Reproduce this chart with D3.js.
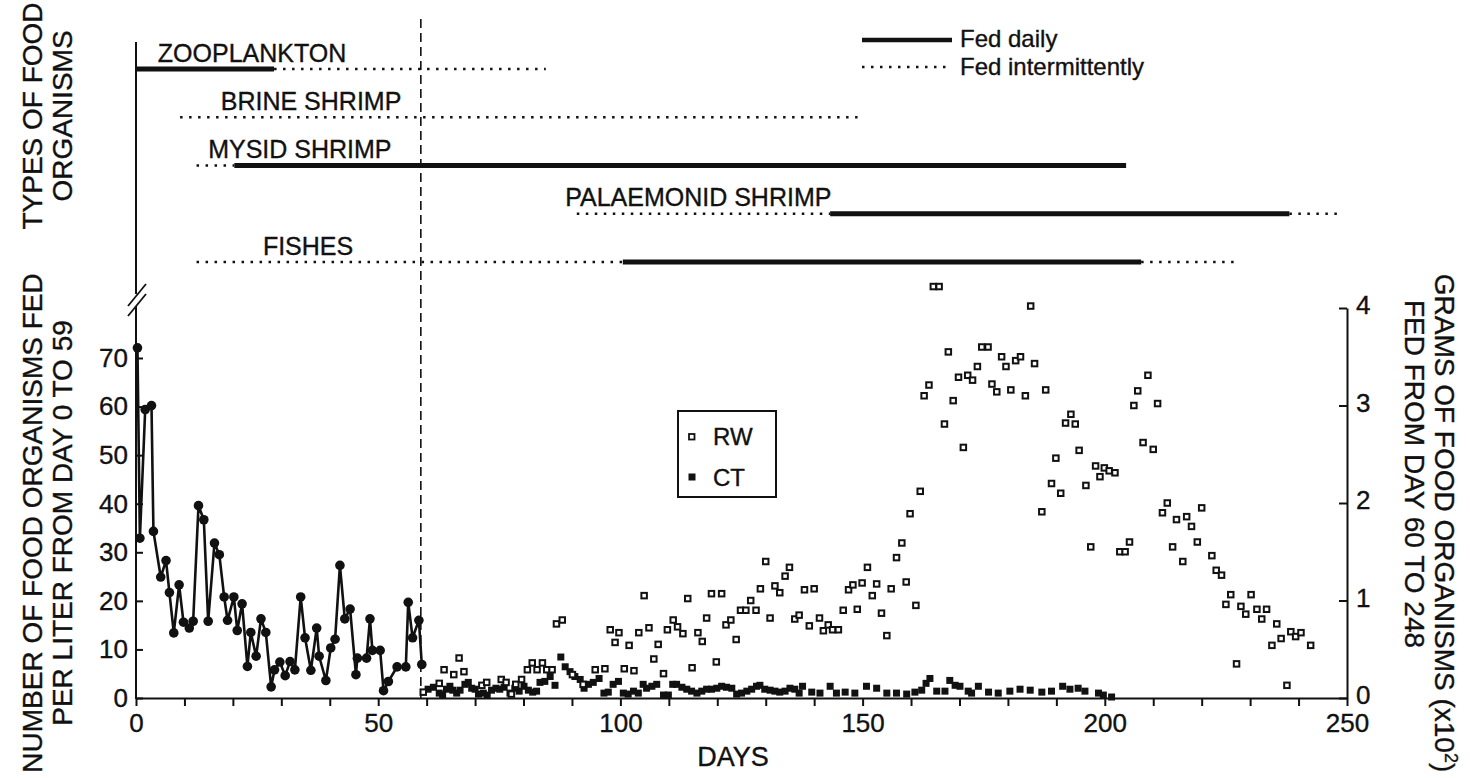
<!DOCTYPE html>
<html>
<head>
<meta charset="utf-8">
<script src="https://cdn.jsdelivr.net/npm/d3@7"></script>
<style>
body { margin: 0; background: #fff; }
svg text { fill: #111; stroke: #111; stroke-width: 0.35px; }
</style>
</head>
<body>
<script>
// days 0-59: organisms fed per liter (left axis)
var earlyDays = [0.3, 0.8, 1.9, 3.2, 3.6, 5.1, 6.2, 6.9, 7.8, 8.9, 9.8, 11.0, 11.8, 12.9, 14.0, 14.9, 16.2, 17.2, 18.2, 18.9,
	20.2, 20.9, 21.9, 23.0, 23.7, 24.8, 25.8, 26.8, 27.9, 28.6, 29.7, 30.8, 31.8, 32.8, 34.0, 34.9, 36.1, 37.3, 37.8, 39.2,
	40.2, 41.1, 42.1, 43.1, 44.2, 45.4, 45.7, 47.6, 48.3, 48.8, 50.4, 51.1, 52.1, 53.9, 55.7, 56.2, 57.1, 58.4, 59.0]
var earlyFed = [72.1, 32.9, 59.4, 60.2, 34.3, 24.9, 28.3, 21.7, 13.4, 23.3, 15.6, 14.4, 15.8, 39.6, 36.7, 15.8, 31.9, 29.5, 20.8, 16.0,
	20.8, 13.9, 19.4, 6.5, 13.5, 8.6, 16.3, 13.5, 2.3, 5.8, 7.4, 4.6, 7.5, 5.8, 20.8, 12.4, 5.7, 14.4, 8.6, 3.6,
	10.3, 12.1, 27.3, 16.3, 18.3, 4.8, 8.2, 8.2, 16.3, 9.8, 9.8, 1.5, 3.4, 6.4, 6.4, 19.7, 12.4, 16.0, 6.9]

// days 60-248: grams x10^2 (right axis)
var rwDays = [59.3, 62.6, 63.6, 65.6, 66.7, 67.7, 71.4, 72.4, 75.4, 76.4, 77.5, 78.4, 79.6, 80.8, 81.8, 82.8, 83.9, 84.8, 85.9, 86.8,
	88.0, 90.1, 92.3, 94.8, 96.8, 97.9, 98.9, 99.7, 100.8, 101.8, 102.8, 103.8, 104.9, 105.9, 106.9, 107.8, 108.9, 109.7, 110.9, 111.8,
	112.9, 113.9, 114.8, 116.0, 116.9, 117.8, 118.8, 119.8, 120.9, 121.8, 122.8, 123.9, 124.8, 125.9, 126.9, 128.0, 128.9, 130.0, 130.9, 131.9,
	132.9, 134.0, 134.9, 136.0, 136.9, 138.0, 139.0, 140.0, 141.1, 141.9, 142.9, 143.8, 145.0, 146.0, 147.1, 148.0, 148.9, 149.9, 151.0, 152.0,
	152.9, 153.9, 155.0, 155.9, 157.0, 158.1, 159.0, 159.8, 161.0, 161.9, 162.7, 163.7, 164.6, 165.8, 166.9, 167.7, 168.7, 169.8, 170.8, 171.7,
	172.7, 173.7, 174.6, 175.9, 176.7, 177.7, 178.7, 179.6, 180.6, 181.6, 182.6, 183.6, 184.7, 185.5, 187.0, 187.8, 189.0, 189.9, 190.9, 191.9,
	193.0, 193.9, 194.7, 196.1, 197.1, 198.1, 199.0, 199.9, 200.9, 202.1, 203.1, 204.2, 205.1, 206.0, 206.8, 207.9, 208.9, 210.0, 210.9, 211.9,
	212.9, 214.0, 214.8, 216.1, 216.9, 217.9, 219.1, 220.0, 222.1, 223.0, 224.1, 225.0, 226.0, 227.2, 228.1, 229.1, 230.2, 231.4, 232.4, 233.4,
	234.5, 235.5, 236.4, 237.6, 238.4, 239.4, 240.5, 242.5]
var rwGrams = [0.06, 0.15, 0.29, 0.24, 0.41, 0.27, 0.13, 0.16, 0.19, 0.16, 0.04, 0.14, 0.19, 0.29, 0.36, 0.29, 0.36, 0.29, 0.29, 0.76,
	0.80, 0.24, 0.14, 0.29, 0.30, 0.70, 0.57, 0.67, 0.30, 0.54, 0.28, 0.67, 1.05, 0.72, 0.40, 0.55, 0.25, 0.70, 0.80, 0.73,
	0.66, 1.02, 0.31, 0.67, 0.58, 0.82, 1.07, 0.37, 1.07, 0.75, 0.80, 0.60, 0.90, 0.90, 1.00, 0.90, 1.12, 1.40, 0.82, 1.15,
	1.08, 1.25, 1.34, 0.81, 0.85, 1.11, 0.74, 1.12, 0.82, 0.69, 0.75, 0.70, 0.70, 0.90, 1.11, 1.16, 0.91, 1.18, 1.34, 1.05,
	1.17, 0.87, 0.64, 1.12, 1.44, 1.59, 1.19, 1.89, 0.95, 2.12, 3.10, 3.21, 4.22, 4.22, 2.81, 3.55, 3.05, 3.29, 2.57, 3.31,
	3.26, 3.40, 3.60, 3.60, 3.22, 3.14, 3.50, 3.40, 3.16, 3.46, 3.50, 3.10, 4.02, 3.43, 1.91, 3.16, 2.20, 2.46, 2.10, 2.82,
	2.91, 2.81, 2.54, 2.18, 1.55, 2.38, 2.27, 2.36, 2.33, 2.31, 1.50, 1.50, 1.60, 3.00, 3.15, 2.62, 3.31, 2.55, 3.02, 1.90,
	2.00, 1.55, 1.83, 1.40, 1.86, 1.76, 1.60, 1.95, 1.46, 1.31, 1.26, 0.96, 1.06, 0.35, 0.94, 0.86, 1.06, 0.91, 0.81, 0.91,
	0.54, 0.76, 0.61, 0.13, 0.68, 0.63, 0.67, 0.54]

var ctDays = [60.3, 61.4, 62.6, 63.3, 64.1, 64.8, 65.4, 66.2, 66.9, 67.9, 68.6, 69.3, 70.0, 70.7, 71.7, 72.5, 73.4, 74.3, 75.1, 76.0,
	77.2, 78.2, 79.1, 80.1, 81.0, 81.9, 82.7, 83.4, 84.4, 85.5, 86.5, 87.7, 88.6, 89.6, 90.6, 91.7, 92.5, 93.4, 94.4, 95.6,
	96.6, 97.5, 98.5, 99.6, 100.6, 101.6, 102.7, 103.7, 104.7, 105.4, 106.5, 107.5, 108.9, 109.9, 110.8, 111.6, 112.7, 113.7, 114.7, 115.8,
	116.8, 117.8, 118.8, 119.9, 120.9, 121.9, 123.0, 124.0, 125.0, 126.1, 127.1, 128.1, 128.8, 129.8, 130.9, 131.9, 132.9, 134.0, 135.0, 136.0,
	136.9, 137.6, 139.5, 141.2, 143.3, 144.6, 146.4, 148.4, 150.8, 152.9, 155.0, 157.0, 159.1, 160.8, 162.2, 163.1, 163.9, 165.3, 167.0, 168.0,
	169.1, 170.1, 171.8, 172.5, 173.9, 176.0, 178.0, 180.4, 182.5, 184.6, 187.0, 189.0, 191.3, 192.8, 194.5, 195.9, 198.7, 199.7, 201.4]
var ctGrams = [0.08, 0.10, 0.04, 0.02, 0.08, 0.11, 0.07, 0.04, 0.07, 0.13, 0.15, 0.09, 0.08, 0.03, 0.04, 0.02, 0.07, 0.09, 0.08, 0.10,
	0.04, 0.09, 0.06, 0.11, 0.07, 0.05, 0.06, 0.15, 0.16, 0.21, 0.12, 0.41, 0.31, 0.26, 0.21, 0.18, 0.09, 0.13, 0.15, 0.19,
	0.04, 0.05, 0.13, 0.16, 0.04, 0.03, 0.06, 0.04, 0.13, 0.09, 0.11, 0.13, 0.02, 0.02, 0.13, 0.13, 0.10, 0.08, 0.06, 0.04,
	0.06, 0.08, 0.08, 0.09, 0.11, 0.10, 0.09, 0.03, 0.04, 0.06, 0.08, 0.11, 0.12, 0.08, 0.07, 0.06, 0.05, 0.06, 0.09, 0.08,
	0.04, 0.11, 0.05, 0.04, 0.11, 0.04, 0.05, 0.04, 0.11, 0.09, 0.04, 0.04, 0.03, 0.05, 0.07, 0.14, 0.19, 0.06, 0.06, 0.17,
	0.12, 0.11, 0.06, 0.04, 0.11, 0.05, 0.04, 0.06, 0.08, 0.07, 0.05, 0.06, 0.11, 0.08, 0.09, 0.06, 0.04, 0.02, 0.00]

// feeding schedule: [organism, mode, from day, to day]
var foods = ['ZOOPLANKTON', 'BRINE SHRIMP', 'MYSID SHRIMP', 'PALAEMONID SHRIMP', 'FISHES']
var foodLabelDays = [4.5, 17.5, 14.9, 88.6, 26.2]
var feeding = [
	['ZOOPLANKTON', 'daily', 0, 28.5], ['ZOOPLANKTON', 'intermittent', 28.5, 84.6],
	['BRINE SHRIMP', 'intermittent', 9.1, 149.6],
	['MYSID SHRIMP', 'intermittent', 12.5, 20.3], ['MYSID SHRIMP', 'daily', 20.3, 204.4],
	['PALAEMONID SHRIMP', 'intermittent', 91, 143.3], ['PALAEMONID SHRIMP', 'daily', 143.3, 238.1], ['PALAEMONID SHRIMP', 'intermittent', 238.1, 248],
	['FISHES', 'intermittent', 12.5, 100.5], ['FISHES', 'daily', 100.5, 207.5], ['FISHES', 'intermittent', 207.5, 227.3]
]
var splitDay = 58.8

var dayTicks = d3.range(0, 251, 10)
var dayLabels = [0, 50, 100, 150, 200, 250]
var fedTicks = [0, 10, 20, 30, 40, 50, 60, 70]
var gramTicks = [0, 1, 2, 3, 4]

var sans = "'Liberation Sans', Arial, sans-serif"
var ink = '#111'
var dotted = '2.5,6.5'

var svg = d3.select('body').append('svg')
	.attr('width', 1470)
	.attr('height', 778)

var x = d3.scaleLinear().domain([0, 250]).range([136, 1347])
var yFed = d3.scaleLinear().domain([0, 70]).range([698, 358])
var yGrams = d3.scaleLinear().domain([0, 4]).range([698, 308])
var yFood = d3.scalePoint().domain(foods).range([69, 262])

function translation(a, b){
	return 'translate(' + a + ',' + b + ')'
}

function styleAxis(g){
	g.attr('font-family', sans).attr('font-size', 26)
	g.selectAll('line, path').attr('stroke', ink).attr('stroke-width', 2)
	g.selectAll('text').attr('fill', ink)
}

// x axis
svg.append('g')
	.attr('transform', translation(0, 698))
	.call(d3.axisBottom(x).tickValues(dayTicks)
		.tickFormat(function(d){ return dayLabels.indexOf(d) >= 0 ? d : '' })
		.tickSizeInner(8).tickSizeOuter(0).tickPadding(8))
	.call(styleAxis)

// left axis, line drawn separately because of the break
var leftAxis = svg.append('g')
	.attr('transform', translation(136, 0))
	.call(d3.axisLeft(yFed).tickValues(fedTicks).tickSizeInner(-7).tickSizeOuter(0).tickPadding(8))
	.call(styleAxis)
leftAxis.select('.domain').remove()

svg.append('line').attr('x1', 136).attr('x2', 136).attr('y1', 699).attr('y2', 306)
	.attr('stroke', ink).attr('stroke-width', 2)
svg.append('line').attr('x1', 136).attr('x2', 136).attr('y1', 294).attr('y2', 42)
	.attr('stroke', ink).attr('stroke-width', 2)
svg.append('line').attr('x1', 128).attr('y1', 306).attr('x2', 146).attr('y2', 284)
	.attr('stroke', ink).attr('stroke-width', 1.8)
svg.append('line').attr('x1', 128).attr('y1', 316).attr('x2', 146).attr('y2', 294)
	.attr('stroke', ink).attr('stroke-width', 1.8)

// right axis
var rightAxis = svg.append('g')
	.attr('transform', translation(1347, 0))
	.call(d3.axisRight(yGrams).tickValues(gramTicks).tickFormat(d3.format('d'))
		.tickSizeInner(-8).tickSizeOuter(0).tickPadding(9))
	.call(styleAxis)
rightAxis.selectAll('text').attr('dy', '0.22em')

// dashed split between the two periods
svg.append('line')
	.attr('x1', x(splitDay)).attr('x2', x(splitDay))
	.attr('y1', 19).attr('y2', 698)
	.attr('stroke', ink).attr('stroke-width', 1.6)
	.attr('stroke-dasharray', '9,5')

// feeding schedule bars
svg.selectAll('.feed').data(feeding).enter().append('line')
	.attr('class', 'feed')
	.attr('x1', function(d){ return x(d[2]) })
	.attr('x2', function(d){ return x(d[3]) })
	.attr('y1', function(d){ return yFood(d[0]) })
	.attr('y2', function(d){ return yFood(d[0]) })
	.attr('stroke', ink)
	.attr('stroke-width', function(d){ return d[1] == 'daily' ? 5 : 2.6 })
	.attr('stroke-dasharray', function(d){ return d[1] == 'daily' ? null : dotted })

svg.selectAll('.foodlabel').data(foods).enter().append('text')
	.attr('class', 'foodlabel')
	.attr('x', function(d, i){ return x(foodLabelDays[i]) })
	.attr('y', function(d){ return yFood(d) - 7.5 })
	.attr('font-family', sans)
	.attr('font-size', 25)
	.text(function(d){ return d })

// schedule legend
svg.append('line').attr('x1', 862).attr('x2', 952).attr('y1', 40).attr('y2', 40)
	.attr('stroke', ink).attr('stroke-width', 4.5)
svg.append('line').attr('x1', 862).attr('x2', 952).attr('y1', 67).attr('y2', 67)
	.attr('stroke', ink).attr('stroke-width', 2.6).attr('stroke-dasharray', dotted)
svg.append('text').attr('x', 960).attr('y', 47).attr('font-family', sans).attr('font-size', 24).text('Fed daily')
svg.append('text').attr('x', 960).attr('y', 75).attr('font-family', sans).attr('font-size', 24).text('Fed intermittently')

// days 0-59
var early = earlyDays.map(function(d, i){ return [d, earlyFed[i]] })
svg.append('path')
	.datum(early)
	.attr('d', d3.line().x(function(d){ return x(d[0]) }).y(function(d){ return yFed(d[1]) }))
	.attr('fill', 'none')
	.attr('stroke', ink)
	.attr('stroke-width', 2.6)
	.attr('stroke-linejoin', 'round')
svg.selectAll('.early').data(early).enter().append('circle')
	.attr('class', 'early')
	.attr('cx', function(d){ return x(d[0]) })
	.attr('cy', function(d){ return yFed(d[1]) })
	.attr('r', 4.8)
	.style('fill', ink)

// CT filled squares
var sq = 7
svg.selectAll('.ct').data(ctDays).enter().append('rect')
	.attr('class', 'ct')
	.attr('x', function(d){ return x(d) - sq / 2 })
	.attr('y', function(d, i){ return yGrams(ctGrams[i]) - sq / 2 - 1 })
	.attr('width', sq)
	.attr('height', sq)
	.style('fill', ink)

// RW open squares
svg.selectAll('.rw').data(rwDays).enter().append('rect')
	.attr('class', 'rw')
	.attr('x', function(d){ return x(d) - 2.75 })
	.attr('y', function(d, i){ return yGrams(rwGrams[i]) - 2.75 })
	.attr('width', 5.5)
	.attr('height', 5.5)
	.style('fill', '#fff')
	.style('stroke', ink)
	.style('stroke-width', 2)

// RW / CT legend
svg.append('rect').attr('x', 678).attr('y', 411).attr('width', 98).attr('height', 86)
	.style('fill', 'none').style('stroke', ink).style('stroke-width', 2)
svg.append('rect').attr('x', 689).attr('y', 434).attr('width', 5.5).attr('height', 5.5)
	.style('fill', '#fff').style('stroke', ink).style('stroke-width', 1.8)
svg.append('rect').attr('x', 688.5).attr('y', 473.5).attr('width', 7).attr('height', 7)
	.style('fill', ink)
svg.append('text').attr('x', 713).attr('y', 445).attr('font-family', sans).attr('font-size', 24).text('RW')
svg.append('text').attr('x', 713).attr('y', 486).attr('font-family', sans).attr('font-size', 24).text('CT')

// axis titles
svg.append('text').attr('x', 733).attr('y', 766).attr('text-anchor', 'middle')
	.attr('font-family', sans).attr('font-size', 27).text('DAYS')

function vtitle(cx, cy, angle, txt){
	return svg.append('text')
		.attr('transform', translation(cx, cy) + ' rotate(' + angle + ')')
		.attr('text-anchor', 'middle')
		.attr('dy', '0.36em')
		.attr('font-family', sans)
		.attr('font-size', 28)
		.text(txt)
}
vtitle(32, 116, -90, 'TYPES OF FOOD')
vtitle(62, 116, -90, 'ORGANISMS')
vtitle(32, 523, -90, 'NUMBER OF FOOD ORGANISMS FED')
vtitle(62, 523, -90, 'PER LITER FROM DAY 0 TO 59')

var grams = vtitle(1445, 523, 90, 'GRAMS OF FOOD ORGANISMS (x10')
grams.append('tspan').attr('baseline-shift', 'super').attr('font-size', 18).text('2')
grams.append('tspan').text(')')
vtitle(1415, 474, 90, 'FED FROM DAY 60 TO 248')
</script>
</body>
</html>
